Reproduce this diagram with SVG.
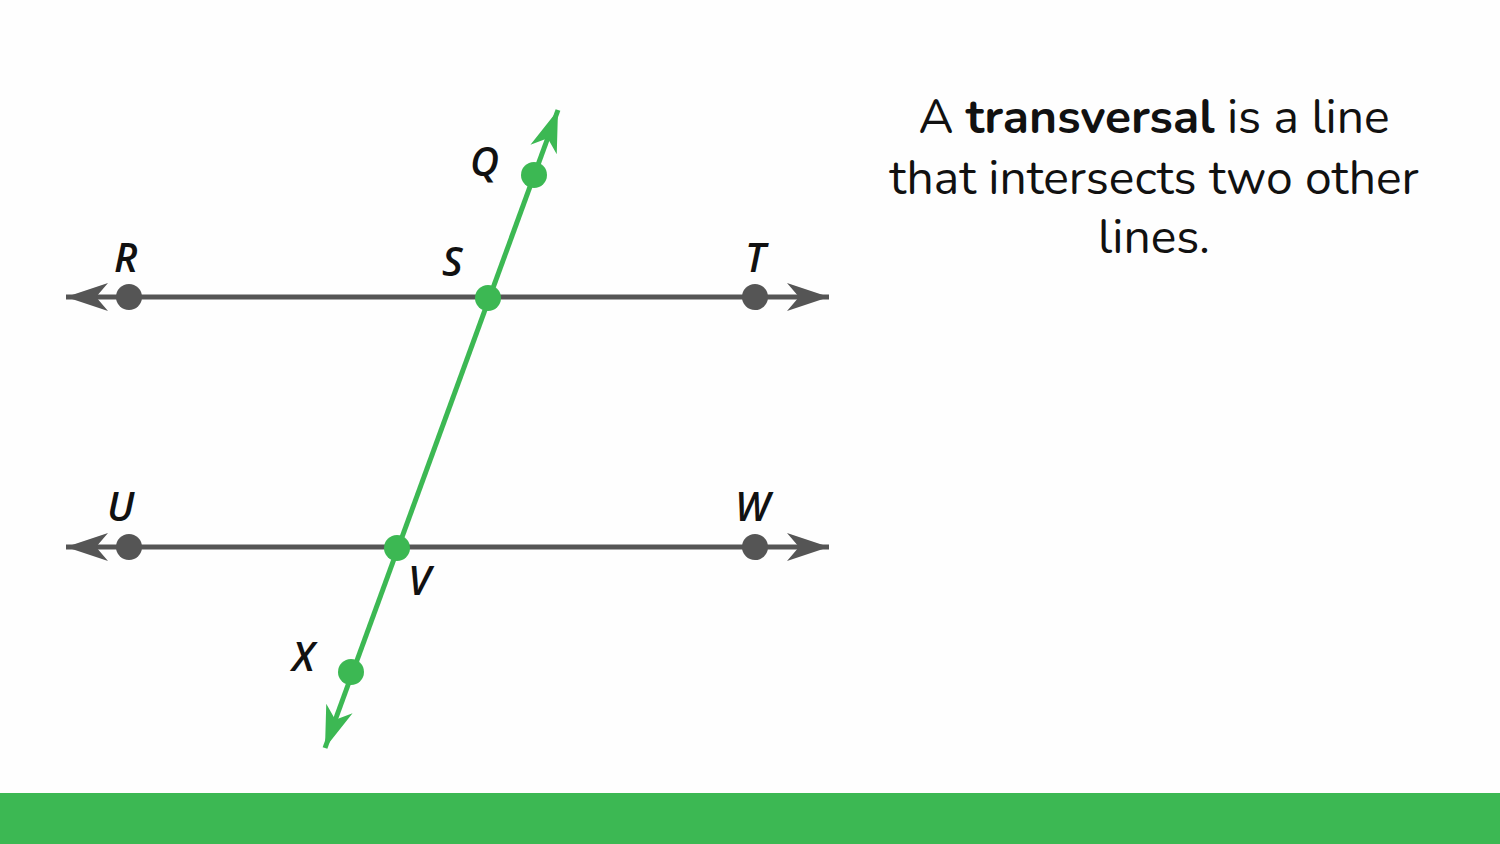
<svg xmlns="http://www.w3.org/2000/svg" width="1500" height="844" viewBox="0 0 1500 844">
<style>
.g{stroke:#555555;stroke-width:5;fill:none}
.t{stroke:#3cb853;stroke-width:5;fill:none}
.lbl{font-family:"Open Sans",sans-serif;font-style:italic;font-weight:600;font-size:40px;fill:#111}
.body{font-family:"Nunito","Lato","Open Sans",sans-serif;font-size:48px;fill:#111;text-anchor:middle}
</style>
<defs>
<marker id="ag" markerUnits="userSpaceOnUse" markerWidth="50" markerHeight="40" refX="0" refY="0" orient="auto-start-reverse" viewBox="-45 -20 50 40"><path d="M0,0 L-42,-14 L-30,0 L-42,14 Z" fill="#555555"/></marker>
<marker id="at" markerUnits="userSpaceOnUse" markerWidth="50" markerHeight="40" refX="0" refY="0" orient="auto-start-reverse" viewBox="-45 -20 50 40"><path d="M0,0 L-42,-14 L-30,0 L-42,14 Z" fill="#3cb853"/></marker>
</defs>
<rect width="1500" height="844" fill="#fefefe"/>
<rect y="793" width="1500" height="51" fill="#3cb853"/>
<g id="connectors">
<line class="g" x1="66" y1="297" x2="829" y2="297" marker-start="url(#ag)" marker-end="url(#ag)"/>
<line class="g" x1="66" y1="547" x2="829" y2="547" marker-start="url(#ag)" marker-end="url(#ag)"/>
<line class="t" x1="558" y1="110" x2="325" y2="748" marker-start="url(#at)" marker-end="url(#at)"/>
</g>
<g id="R"><circle cx="129" cy="297" r="13" fill="#555"/><text class="lbl" x="114" y="272">R</text></g>
<g id="T"><circle cx="755" cy="297" r="13" fill="#555"/><text class="lbl" x="745" y="272">T</text></g>
<g id="U"><circle cx="129" cy="547" r="13" fill="#555"/><text class="lbl" x="107" y="521">U</text></g>
<g id="W"><circle cx="755" cy="547" r="13" fill="#555"/><text class="lbl" x="735" y="521">W</text></g>
<g id="Q"><circle cx="534" cy="175" r="13" fill="#3cb853"/><text class="lbl" x="470" y="176">Q</text></g>
<g id="S"><circle cx="488" cy="298" r="13" fill="#3cb853"/><text class="lbl" x="442" y="276">S</text></g>
<g id="V"><circle cx="397" cy="548" r="13" fill="#3cb853"/><text class="lbl" x="408" y="595">V</text></g>
<g id="X"><circle cx="351" cy="672" r="13" fill="#3cb853"/><text class="lbl" x="292" y="671">X</text></g>
<g id="caption">
<text class="body" x="1154" y="133">A <tspan font-weight="bold">transversal</tspan> is a line</text>
<text class="body" x="1154" y="194">that intersects two other</text>
<text class="body" x="1154" y="253">lines.</text>
</g>
</svg>
